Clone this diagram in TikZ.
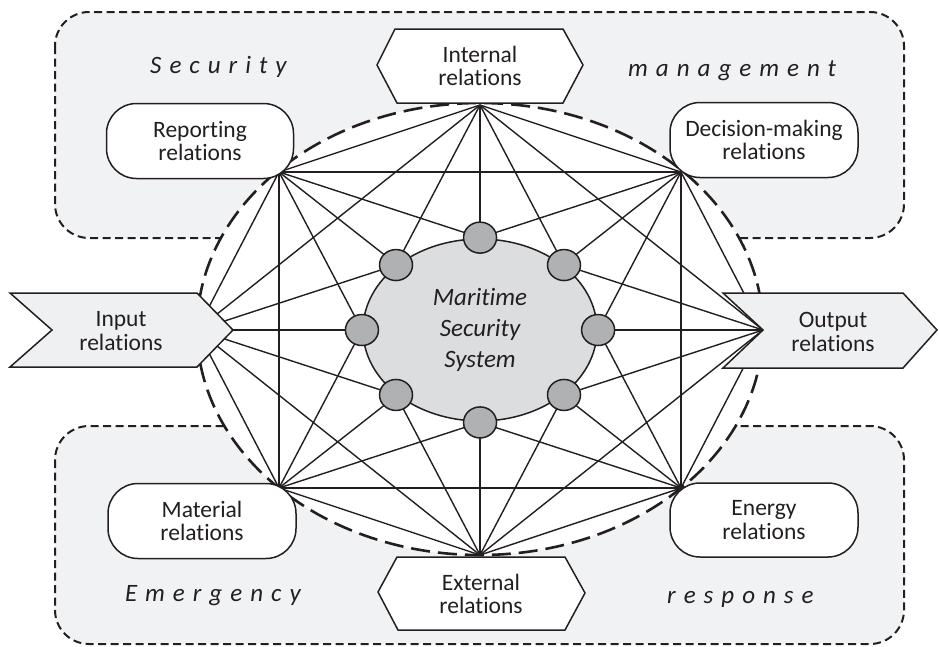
\documentclass[tikz,border=0pt]{standalone}
\usepackage{fontspec}
\setmainfont{Carlito}[Ligatures=NoCommon]
\usetikzlibrary{shapes.geometric}
\definecolor{boxfill}{HTML}{F1F2F4}
\definecolor{corefill}{HTML}{DCDDDF}
\definecolor{dotfill}{HTML}{B0B1B3}
\definecolor{ink}{HTML}{231F20}
\definecolor{arrowfill}{HTML}{EFF0F2}
\begin{document}
\begin{tikzpicture}[x=1pt,y=-1pt,
  zone/.style={fill=boxfill, draw=ink, line width=2pt, dash pattern=on 8pt off 4.5pt, rounded corners=34pt},
  link/.style={draw=ink, line width=1.4pt},
  pill/.style={draw=ink, fill=white, line width=1.5pt, rounded corners=30pt},
  outline/.style={draw=ink, line width=1.5pt, line join=miter},
  txt/.style={font=\fontsize{23.5}{23.5}\selectfont, text=ink, align=center, inner sep=0pt},
  dotnode/.style={ellipse, draw=ink, fill=dotfill, line width=1.5pt, minimum width=33pt, minimum height=31pt, inner sep=0pt},
  zonelabel/.style={font={\fontsize{25}{25}\selectfont\itshape\addfontfeature{LetterSpace=32}}, text=ink, inner sep=0pt, anchor=base west}
]
\useasboundingbox (0,0) rectangle (939,646);

% zones
\path[zone] (55,12) rectangle (904,238);
\path[zone] (55,426) rectangle (904,644);

% big dashed ellipse
\path[draw=ink, fill=white, line width=2.6pt, dash pattern=on 19pt off 8pt] (480,329) ellipse [x radius=283pt, y radius=226pt];

% outer vertices
\coordinate (v0) at (480,105);
\coordinate (v1) at (681,172);
\coordinate (v2) at (763,330);
\coordinate (v3) at (681,488);
\coordinate (v4) at (480,555);
\coordinate (v5) at (279,488);
\coordinate (v6) at (197,330);
\coordinate (v7) at (279,172);

% small circle centres at crossings of the connectors
\coordinate (c0) at (intersection of v7--v2 and v1--v6);
\coordinate (c1) at (intersection of v0--v3 and v2--v7);
\coordinate (c2) at (intersection of v1--v4 and v3--v0);
\coordinate (c3) at (intersection of v4--v1 and v2--v5);
\coordinate (c4) at (intersection of v5--v2 and v3--v6);
\coordinate (c5) at (intersection of v4--v7 and v6--v3);
\coordinate (c6) at (intersection of v7--v4 and v5--v0);
\coordinate (c7) at (intersection of v0--v5 and v6--v1);

% complete graph among outer vertices
\foreach \i in {0,...,7}{
  \foreach \j in {0,...,7}{
    \ifnum\i<\j \draw[link] (v\i) -- (v\j);\fi
  }
}

% core
\node[ellipse, draw=ink, fill=corefill, line width=1.5pt, minimum width=234pt, minimum height=182pt, inner sep=0pt,
      font={\fontsize{25}{31}\selectfont\itshape}, text=ink, align=center] (core) at (480,330) {Maritime\\Security\\System};

\foreach \i in {0,...,7} \node[dotnode] (d\i) at (c\i) {};

% rounded boxes
\node[pill, txt, minimum width=187pt, minimum height=75pt] (rep) at (200,141) {Reporting\\relations};
\node[pill, txt, minimum width=188pt, minimum height=75pt] (dec) at (764,140) {Decision-making\\relations};
\node[pill, txt, minimum width=188pt, minimum height=75pt] (mat) at (202,521) {Material\\relations};
\node[pill, txt, minimum width=188pt, minimum height=74pt] (ene) at (764,520) {Energy\\relations};

% hexagons
\path[outline, fill=white] (395,29) -- (563,29) -- (583,65) -- (563,103) -- (397,103) -- (377,65) -- cycle;
\node[txt] (int) at (480,66) {Internal\\relations};
\path[outline, fill=white] (397,557) -- (565,557) -- (585,593) -- (565,630) -- (398,630) -- (378,592) -- cycle;
\node[txt] (ext) at (481,594) {External\\relations};

% input / output arrows
\path[outline, fill=arrowfill] (10,293) -- (197,293) -- (233,330) -- (197,367) -- (10,367) -- (52,330) -- cycle;
\node[txt] (inp) at (121,331) {Input\\relations};
\path[outline, fill=arrowfill] (723,293) -- (903,293) -- (937,330) -- (903,368) -- (723,368) -- (763,330) -- cycle;
\node[txt] (out) at (833,332) {Output\\relations};

% zone labels
\node[zonelabel] (sec) at (150,73) {Security};
\node[zonelabel] (man) at (628,76) {management};
\node[zonelabel] (eme) at (125,601) {Emergency};
\node[zonelabel] (res) at (667,603) {response};
\end{tikzpicture}
\end{document}
